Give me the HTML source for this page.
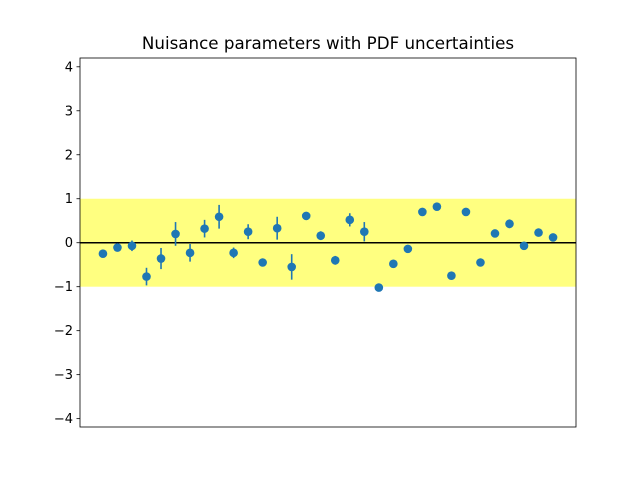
<!DOCTYPE html>
<html><head><meta charset="utf-8"><style>body{margin:0;background:#fff}svg{display:block;font-family:"DejaVu Sans","Liberation Sans",sans-serif}</style></head>
<body>
<svg id="chart" width="640" height="480"></svg>
<script>
const categories=[...Array(32).keys()];
const values=[-0.25,-0.11,-0.07,-0.77,-0.36,0.20,-0.23,0.32,0.59,-0.23,0.25,-0.45,0.33,-0.55,0.61,0.16,-0.40,0.52,0.25,-1.02,-0.48,-0.14,0.70,0.82,-0.75,0.70,-0.45,0.21,0.43,-0.07,0.23,0.12];
const errors=[0.04,0.04,0.12,0.2,0.24,0.27,0.2,0.2,0.27,0.12,0.17,0.05,0.26,0.29,0.04,0.1,0.1,0.15,0.22,0.05,0.04,0.05,0.04,0.04,0.05,0.05,0.04,0.07,0.1,0.08,0.04,0.04];
const yTicks=[-4,-3,-2,-1,0,1,2,3,4];
const NS="http://www.w3.org/2000/svg";
const svg=document.getElementById('chart');
const L=80,R=576,T=58,B=427,xmin=-1.58,xmax=32.58,ymin=-4.19,ymax=4.2;
const X=v=>L+(v-xmin)/(xmax-xmin)*(R-L);
const Y=v=>B-(v-ymin)/(ymax-ymin)*(B-T);
function mk(t,a,p){const e=document.createElementNS(NS,t);for(const k in a)e.setAttribute(k,a[k]);(p||svg).appendChild(e);return e;}
const band=mk('rect',{x:L,y:Y(1),width:R-L,height:Y(-1)-Y(1),fill:'#ffff80'});


const zl=mk('line',{x1:L,x2:R,y1:Y(0),y2:Y(0),stroke:'#000','stroke-width':1.5});


categories.forEach((c,i)=>{
 const g=mk('g',{});
 
 
 mk('line',{x1:X(c),x2:X(c),y1:Y(values[i]-errors[i]),y2:Y(values[i]+errors[i]),stroke:'#1f77b4','stroke-width':1.6},g);
 mk('circle',{cx:X(c),cy:Y(values[i]),r:4.3,fill:'#1f77b4'},g);
});
const frame=mk('rect',{x:L,y:T,width:R-L,height:B-T,fill:'none',stroke:'#000','stroke-width':0.8});


yTicks.forEach(t=>{
 mk('line',{x1:L-3.5,x2:L,y1:Y(t),y2:Y(t),stroke:'#000','stroke-width':0.8});
 const tx=mk('text',{x:L-7,y:Y(t)+4.5,'text-anchor':'end','font-size':13});
 tx.textContent=t<0?'\u2212'+(-t):String(t);
 
 
});
const ti=mk('text',{x:(L+R)/2,y:49,'text-anchor':'middle','font-size':16.7});
ti.textContent='Nuisance parameters with PDF uncertainties';


</script>
</body></html>
